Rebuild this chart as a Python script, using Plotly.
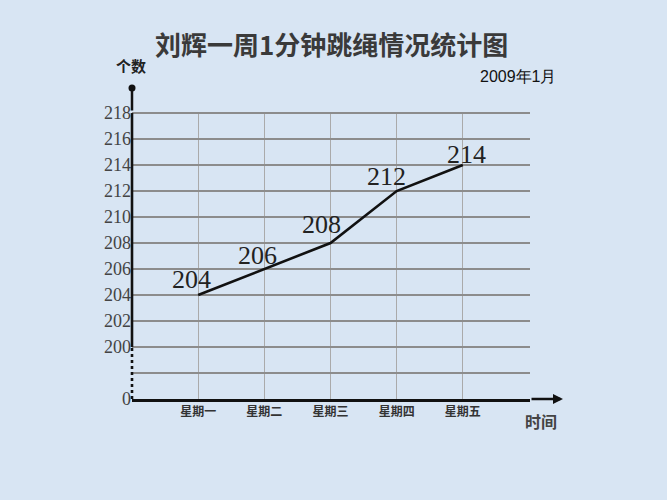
import plotly.graph_objects as go

# ---- data ----
days = ["星期一", "星期二", "星期三", "星期四", "星期五"]
counts = [204, 206, 208, 212, 214]
y_tick_vals = [196, 198, 200, 202, 204, 206, 208, 210, 212, 214, 216, 218]
y_tick_text = ["0", "", "200", "202", "204", "206", "208", "210", "212", "214", "216", "218"]
title_text = "刘辉一周1分钟跳绳情况统计图"
date_text = "2009年1月"
y_title = "个数"
x_title = "时间"

# label offsets (px) for the value labels
label_dx = [-7, -7, -9, -10, 4]
label_dy = [16, 14, 19, 15, 11]

x_pos = list(range(1, len(days) + 1))
bg = "#d8e5f3"
serif = "Liberation Serif, Times New Roman, serif"
cjk = "Noto Sans CJK SC, sans-serif"

fig = go.Figure()
fig.add_trace(go.Scatter(
    x=x_pos, y=counts, mode="lines",
    line=dict(color="#111111", width=2.6),
    hoverinfo="skip", showlegend=False,
))

annotations = []
for xv, yv, dx, dy in zip(x_pos, counts, label_dx, label_dy):
    annotations.append(dict(
        x=xv, y=yv, xref="x", yref="y", text=str(yv), showarrow=False,
        xshift=dx, yshift=dy, font=dict(family=serif, size=26, color="#222222"),
    ))

# title and small texts (pixel positions, converted to paper coords below)
annotations += [
    dict(x=331, y=44, text="<b>" + title_text + "</b>", showarrow=False,
         font=dict(family=cjk, size=26, color="#3a3a3a")),
    dict(x=131, y=65, text="<b>" + y_title + "</b>", showarrow=False,
         font=dict(family=cjk, size=15, color="#222222")),
    dict(x=518, y=77, text=date_text, showarrow=False,
         font=dict(family="Liberation Sans, Arial, sans-serif", size=16, color="#111111")),
    dict(x=541, y=421, text="<b>" + x_title + "</b>", showarrow=False,
         font=dict(family=cjk, size=16, color="#444444")),
]
L, R, T, B, W, H = 132, 530, 112, 399, 667, 500
for a in annotations[len(x_pos):]:
    a["xref"] = "paper"
    a["yref"] = "paper"
    a["x"] = (a["x"] - L) / (R - L)
    a["y"] = (B - a["y"]) / (B - T)
    a["xanchor"] = "center"
    a["yanchor"] = "middle"

# axis arrows
annotations += [
    dict(x=(563 - L) / (R - L), y=0, xref="paper", yref="paper", text="",
         showarrow=True, ax=-(563 - R), ay=0, arrowhead=2, arrowsize=0.8,
         arrowwidth=2.5, arrowcolor="#111111"),
    dict(x=0, y=(B - 88) / (B - T), xref="paper", yref="paper", text="",
         showarrow=True, ax=0, ay=(T - 88), arrowhead=6, arrowsize=0.7,
         arrowwidth=2.5, arrowcolor="#111111"),
]

shapes = [
    dict(type="line", xref="paper", yref="y", x0=0, x1=0, y0=y_tick_vals[2], y1=y_tick_vals[-1],
         line=dict(color="#111111", width=2.6), layer="above"),
    dict(type="line", xref="paper", yref="y", x0=0, x1=0, y0=y_tick_vals[0], y1=y_tick_vals[2],
         line=dict(color="#111111", width=2.6, dash="dot"), layer="above"),
]

fig.update_layout(
    width=W, height=H,
    margin=dict(l=L, r=W - R, t=T, b=H - B, pad=0),
    paper_bgcolor=bg, plot_bgcolor=bg,
    annotations=annotations, shapes=shapes,
    showlegend=False,
    xaxis=dict(
        range=[0, 6.015], tickmode="array", tickvals=x_pos + [6],
        ticktext=["<b>" + d + "</b>" for d in days] + [""],
        showgrid=True, gridcolor="#aaaaaa", gridwidth=1,
        showline=True, linecolor="#111111", linewidth=2.6,
        zeroline=False, ticks="", fixedrange=True,
        tickfont=dict(family=cjk, size=12, color="#333333"),
    ),
    yaxis=dict(
        range=[196, 218.08], tickmode="array", tickvals=y_tick_vals, ticktext=y_tick_text,
        showgrid=True, gridcolor="#8c8c8c", gridwidth=2,
        showline=False, zeroline=False, ticks="", fixedrange=True,
        tickfont=dict(family=serif, size=18, color="#444444"),
    ),
)

fig.write_html(
    "out.html",
    config={"displayModeBar": False},
    post_script="document.body.style.margin='0';document.body.style.background='" + bg + "';",
)
